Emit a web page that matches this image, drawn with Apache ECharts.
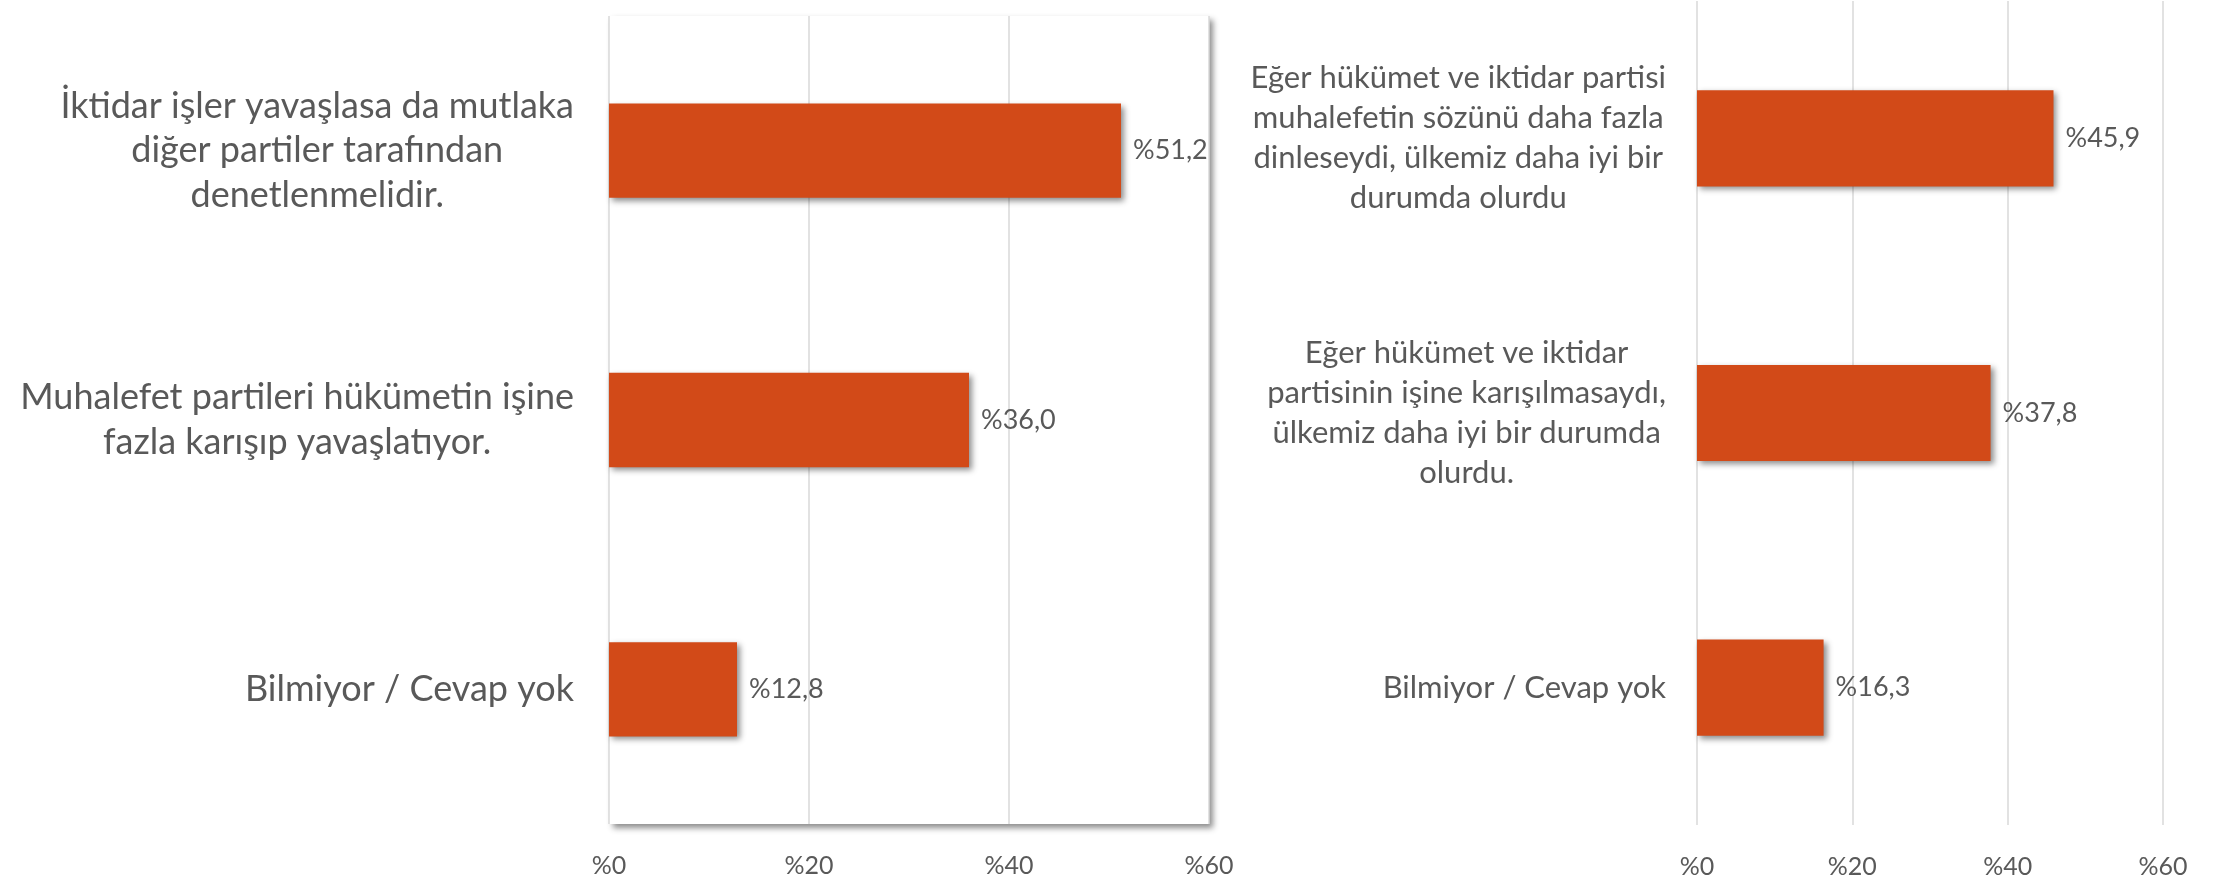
<!DOCTYPE html>
<html>
<head>
<meta charset="utf-8">
<script src="https://cdn.jsdelivr.net/npm/echarts@6/dist/echarts.min.js"></script>
<style>
html,body{margin:0;padding:0;background:#fff;}
#chart{width:2219px;height:882px;}
</style>
</head>
<body>
<div id="chart"></div>
<script>
// ---- data ----
const leftCategories = [
  "İktidar işler yavaşlasa da mutlaka\ndiğer partiler tarafından\ndenetlenmelidir.",
  "Muhalefet partileri hükümetin işine\nfazla karışıp yavaşlatıyor.",
  "Bilmiyor / Cevap yok"
];
const leftValues = [51.2, 36.0, 12.8];

const rightCategories = [
  "Eğer hükümet ve iktidar partisi\nmuhalefetin sözünü daha fazla\ndinleseydi, ülkemiz daha iyi bir\ndurumda olurdu",
  "Eğer hükümet ve iktidar\npartisinin işine karışılmasaydı,\nülkemiz daha iyi bir durumda\nolurdu.",
  "Bilmiyor / Cevap yok"
];
const rightValues = [45.9, 37.8, 16.3];

const axisMin = 0, axisMax = 60, axisInterval = 20;

// ---- styles ----
const FONT = 'Lato';
const TXT = '#595959';
const BAR = '#D24A18';
const GRIDLINE = '#D9D9D9';

function centeredLines(s) {
  return s.split('\n').map(l => '{c|' + l + '}').join('\n');
}
function pct(v) {
  return '%' + v.toFixed(1).replace('.', ',');
}

function xAxisDef(gridIndex) {
  return {
    type: 'value', gridIndex: gridIndex,
    min: axisMin, max: axisMax, interval: axisInterval,
    axisLine: {show: false}, axisTick: {show: false},
    splitLine: {show: true, lineStyle: {color: GRIDLINE, width: 1.5}},
    axisLabel: {
      formatter: v => '%' + v, color: TXT, fontFamily: FONT, fontSize: 25, margin: 29
    }
  };
}
function yAxisDef(gridIndex, cats, fs, lh, margin) {
  return {
    type: 'category', gridIndex: gridIndex, data: cats, inverse: true,
    axisLine: {show: false}, axisTick: {show: false}, splitLine: {show: false},
    axisLabel: {
      formatter: centeredLines, margin: margin, align: 'right',
      color: TXT, fontFamily: FONT, fontSize: fs, lineHeight: lh,
      rich: {c: {align: 'center', color: TXT, fontFamily: FONT, fontSize: fs, lineHeight: lh}}
    }
  };
}
function barSeries(idx, vals) {
  return {
    type: 'bar', xAxisIndex: idx, yAxisIndex: idx, data: vals,
    barCategoryGap: '65%',
    itemStyle: {color: BAR, shadowColor: 'rgba(0,0,0,0.45)', shadowBlur: 6, shadowOffsetX: 3, shadowOffsetY: 3},
    label: {show: true, position: 'right', distance: 12, formatter: p => pct(p.value),
      color: TXT, fontFamily: FONT, fontSize: 27},
    silent: true
  };
}

const chart = echarts.init(document.getElementById('chart'), null, {renderer: 'canvas'});
chart.setOption({
  backgroundColor: '#ffffff',
  animation: false,
  grid: [
    {left: 609, top: 16, width: 600, height: 808, show: true, backgroundColor: '#ffffff', borderWidth: 0,
     shadowColor: 'rgba(0,0,0,0.45)', shadowBlur: 6, shadowOffsetX: 4, shadowOffsetY: 4},
    {left: 1697, top: 1, width: 466, height: 824}
  ],
  xAxis: [xAxisDef(0), xAxisDef(1)],
  yAxis: [yAxisDef(0, leftCategories, 36, 44.6, 35), yAxisDef(1, rightCategories, 31, 40, 31)],
  series: [barSeries(0, leftValues), barSeries(1, rightValues)]
});
</script>
</body>
</html>
